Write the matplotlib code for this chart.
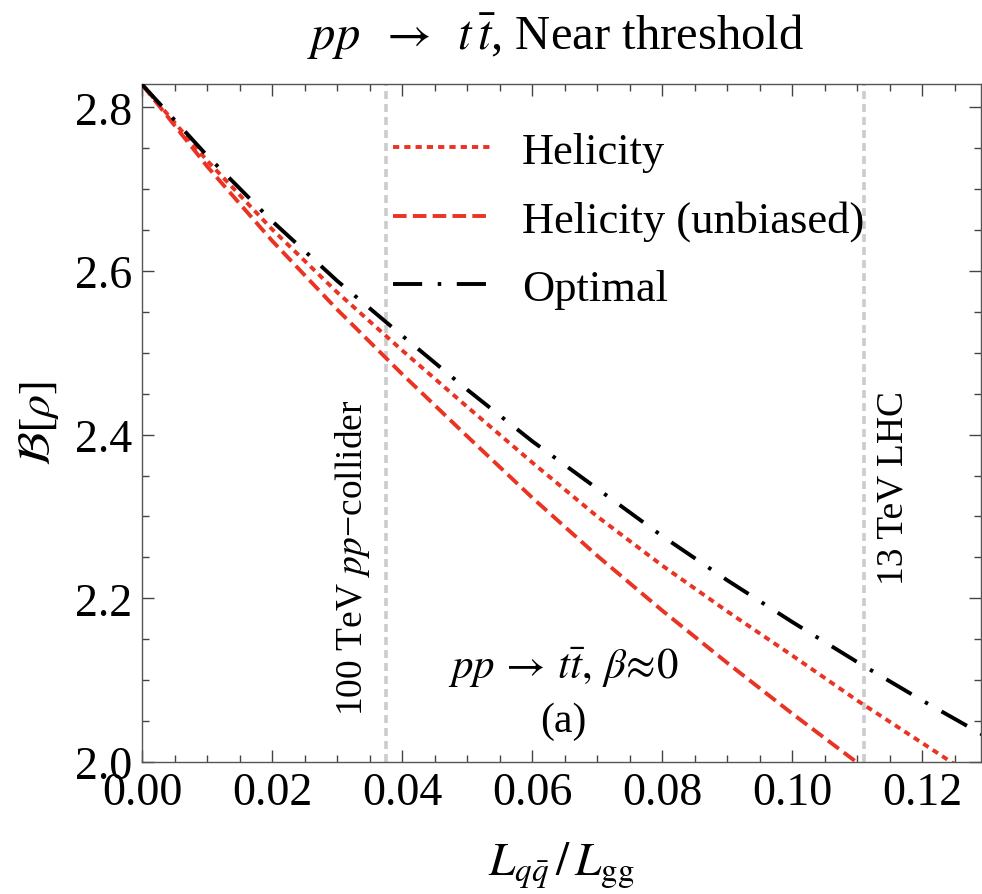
import matplotlib
matplotlib.use("Agg")
import matplotlib.pyplot as plt
from matplotlib.ticker import MultipleLocator, FormatStrFormatter
import numpy as np

plt.rcParams['font.family'] = ['Liberation Serif', 'DejaVu Serif']
plt.rcParams['mathtext.fontset'] = 'stix'

# data
x_vals = [0.0, 0.01, 0.02, 0.03, 0.04, 0.05, 0.06, 0.07, 0.08, 0.09, 0.10, 0.11, 0.12, 0.13]
helicity = [2.828, 2.735, 2.651, 2.574, 2.503, 2.434, 2.366, 2.300, 2.240, 2.184, 2.130, 2.075, 2.023, 1.971]
helicity_unbiased = [2.828, 2.728, 2.637, 2.553, 2.474, 2.398, 2.323, 2.252, 2.185, 2.121, 2.059, 1.999, 1.940, 1.882]
optimal = [2.828, 2.741, 2.661, 2.588, 2.521, 2.455, 2.392, 2.334, 2.276, 2.222, 2.171, 2.122, 2.075, 2.030]
colliders = [0.0375, 0.1110]
collider_labels = ["100 TeV $pp$\u2212collider", "13 TeV LHC"]
x_ticks = [0.00, 0.02, 0.04, 0.06, 0.08, 0.10, 0.12]
y_ticks = [2.0, 2.2, 2.4, 2.6, 2.8]

red = '#ea3323'
lw = 2.8

fig = plt.figure(figsize=(9.82, 8.95), dpi=100)
ax = fig.add_axes([142/982, 1-763/895, (981-142)/982, (763-85)/895])

for xc in colliders:
    ax.axvline(xc, color='#cccccc', lw=2.6, dashes=(2.2, 1.4), zorder=1)

ax.plot(x_vals, helicity, color=red, lw=lw, dashes=(1.6, 1.3), label='Helicity', zorder=3)
ax.plot(x_vals, helicity_unbiased, color=red, lw=lw, dashes=(3.5, 1.6), label='Helicity (unbiased)', zorder=3)
ax.plot(x_vals, optimal, color='black', lw=lw, dashes=(7.5, 4.0, 0.9, 4.0), label='Optimal', zorder=3)

ax.set_xlim(0, 0.129)
ax.set_ylim(2.0, 2.8285)
ax.set_xticks(x_ticks)
ax.set_yticks(y_ticks)
ax.xaxis.set_minor_locator(MultipleLocator(0.005))
ax.yaxis.set_minor_locator(MultipleLocator(0.05))
ax.xaxis.set_major_formatter(FormatStrFormatter('%.2f'))
ax.yaxis.set_major_formatter(FormatStrFormatter('%.1f'))
ax.tick_params(which='both', direction='in', top=True, right=True, colors='#444444',
               labelcolor='black', labelsize=33, width=1.0)
ax.tick_params(which='major', length=8.5, pad=7)
ax.tick_params(which='minor', length=5)
for s in ax.spines.values():
    s.set_color('#555555')
    s.set_linewidth(1.0)

ax.set_ylabel(r'$\mathcal{B}[\rho]$', fontsize=33, labelpad=10)
ax.set_xlabel(r'$L_{q\bar{q}}\,/\,L_{\rm gg}$', fontsize=34, labelpad=18)

fig.text(555/982, 1-37/895, r'$pp\;\;\rightarrow\;\;t\,\bar{t}$, Near threshold', fontsize=35,
         ha='center', va='center')

ax.text(0.0648, 2.116, r'$pp\,\rightarrow\,t\bar{t},\,\beta\!\approx\!0$', fontsize=31,
        ha='center', va='center')
ax.text(0.0648, 2.05, '(a)', fontsize=30, ha='center', va='center')

ax.text(0.0323, 2.2506, collider_labels[0], fontsize=27, rotation=90, ha='center', va='center')
ax.text(0.1155, 2.336, collider_labels[1], fontsize=27, rotation=90, ha='center', va='center')

leg = ax.legend(loc='upper left', bbox_to_anchor=(0.299, 0.930), frameon=False,
                fontsize=32, handlelength=2.2, handletextpad=0.7, labelspacing=0.63,
                borderpad=0, borderaxespad=0)

fig.savefig('out.png', dpi=100)
